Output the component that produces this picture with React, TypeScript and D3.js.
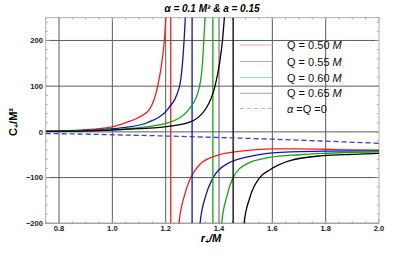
import React from "react";
import * as d3 from "d3";

// readings: [r+/M, C+/M²]
const q050Left = [[0.75, 1], [0.85, 3], [0.95, 7], [1.0, 11], [1.05, 20], [1.1, 32], [1.14, 50], [1.17, 100], [1.185, 150], [1.195, 200], [1.202, 265]];
const q050Right = [[1.243, -260], [1.25, -200], [1.27, -140], [1.294, -100], [1.33, -70], [1.39, -52], [1.5, -41], [1.6, -37], [1.7, -37], [1.8, -38], [1.9, -39.5], [2.0, -40]];
const q055Left = [[0.75, 1], [0.85, 2], [0.95, 5], [1.0, 7], [1.05, 10], [1.13, 20], [1.208, 50], [1.252, 100], [1.263, 150], [1.269, 200], [1.275, 265]];
const q055Right = [[1.322, -260], [1.329, -200], [1.35, -140], [1.378, -100], [1.43, -70], [1.53, -52], [1.63, -45], [1.8, -42], [2.0, -41.5]];
const q060Left = [[0.75, 1], [0.9, 2.5], [1.0, 5], [1.1, 9], [1.21, 20], [1.288, 50], [1.327, 100], [1.338, 150], [1.343, 200], [1.349, 265]];
const q060Right = [[1.403, -260], [1.41, -200], [1.43, -140], [1.453, -100], [1.504, -70], [1.59, -56], [1.7, -50], [1.79, -47], [2.0, -43.5]];
const q065Left = [[0.75, 1], [0.9, 2], [1.0, 4], [1.1, 7], [1.18, 10], [1.285, 20], [1.35, 50], [1.385, 100], [1.402, 150], [1.413, 200], [1.422, 265]];
const q065Right = [[1.487, -260], [1.494, -200], [1.516, -143], [1.553, -100], [1.591, -83], [1.666, -63], [1.79, -52], [1.9, -49], [2.0, -47]];
const schwarz = [[0.75, -3.5], [0.9, -5], [1.0, -6.3], [1.2, -9], [1.4, -12.3], [1.6, -16], [1.8, -20.3], [2.0, -25]];

const series = [
  { name: "Q = 0.50 ", color: "#ff1a1a", pale: "#f4a3a3", pole: 1.219, left: q050Left, right: q050Right },
  { name: "Q = 0.55 ", color: "#1010c8", pale: "#a8a8ee", pole: 1.299, left: q055Left, right: q055Right },
  { name: "Q = 0.60 ", color: "#10a810", pale: "#a6daa6", pole: 1.377, left: q060Left, right: q060Right },
  { name: "Q = 0.65 ", color: "#000000", pale: "#a0a0a0", pole: 1.453, left: q065Left, right: q065Right },
];

const xTicks = [0.8, 1.0, 1.2, 1.4, 1.6, 1.8, 2.0];
const yTicks = [-200, -100, 0, 100, 200];

const W = 415, H = 260;
const x = d3.scaleLinear().domain([0.75, 2.0]).range([45.7, 379]);
const y = d3.scaleLinear().domain([-200, 250]).range([223.3, 17.6]);

const line = d3.line<number[]>().x(d => x(d[0])).y(d => y(d[1])).curve(d3.curveMonotoneX);

export default function App() {
  const [x0, x1] = x.range();
  const [y0, y1] = y.range();
  const xMinor = d3.range(0.75, 2.0001, 0.05);
  const yMinor = d3.range(-200, 250.1, 20);
  const font = "'Liberation Sans', Arial, sans-serif";
  const legendY = [45, 61.5, 77.5, 93.3, 108.5];

  return (
    <svg width={W} height={H} style={{ position: "absolute", left: 0, top: 0, background: "#fff" }} fontFamily={font}>
      <defs>
        <clipPath id="plot"><rect x={x0} y={y1} width={x1 - x0} height={y0 - y1} /></clipPath>
      </defs>

      {/* grid */}
      <g stroke="#5a5a5a" strokeWidth={1}>
        {xTicks.filter(t => t < 2).map(t => <line key={"gx" + t} x1={x(t)} x2={x(t)} y1={y1} y2={y0} />)}
        {yTicks.map(t => <line key={"gy" + t} x1={x0} x2={x1} y1={y(t)} y2={y(t)} />)}
      </g>

      {/* frame and ticks */}
      <rect x={x0} y={y1} width={x1 - x0} height={y0 - y1} fill="none" stroke="#b0b0b0" strokeWidth={1} />
      <g stroke="#a0a0a0" strokeWidth={0.8}>
        {xMinor.map((t, i) => {
          const major = xTicks.some(m => Math.abs(m - t) < 1e-6);
          const len = major ? 4 : 2.2;
          return <g key={"xt" + i}>
            <line x1={x(t)} x2={x(t)} y1={y0} y2={y0 - len} />
            <line x1={x(t)} x2={x(t)} y1={y1} y2={y1 + len} />
          </g>;
        })}
        {yMinor.map((t, i) => {
          const major = yTicks.includes(Math.round(t));
          const len = major ? 4 : 2.2;
          return <g key={"yt" + i}>
            <line x1={x0} x2={x0 + len} y1={y(t)} y2={y(t)} />
            <line x1={x1} x2={x1 - len} y1={y(t)} y2={y(t)} />
          </g>;
        })}
      </g>

      {/* tick labels */}
      <g fontSize={7.6} fontWeight="bold" fill="#222">
        {xTicks.map(t => <text key={"xl" + t} x={x(t)} y={231} textAnchor="middle">{t.toFixed(1)}</text>)}
        {yTicks.map(t => <text key={"yl" + t} x={43} y={y(t) + 2.7} textAnchor="end">{t < 0 ? "\u2212" + Math.abs(t) : t}</text>)}
      </g>

      {/* curves */}
      <g clipPath="url(#plot)" fill="none">
        {series.map(s => (
          <g key={s.name} stroke={s.color} strokeWidth={1.3}>
            <line x1={x(s.pole)} x2={x(s.pole)} y1={y1} y2={y0} />
            <path d={line(s.left) ?? ""} />
            <path d={line(s.right) ?? ""} />
          </g>
        ))}
        <path d={line(schwarz) ?? ""} stroke="#3a3ae8" strokeWidth={1.3} strokeDasharray="5,3" />
      </g>

      {/* legend */}
      <g fontSize={11}>
        {series.map((s, i) => (
          <g key={"lg" + i}>
            <line x1={240} x2={272.5} y1={legendY[i]} y2={legendY[i]} stroke={s.pale} strokeWidth={1} />
            <text x={287} y={legendY[i] + 4} fill="#111">{s.name}<tspan fontStyle="italic">M</tspan></text>
          </g>
        ))}
        <line x1={240} x2={272.5} y1={legendY[4]} y2={legendY[4]} stroke="#b8b8f4" strokeWidth={1.2} strokeDasharray="4,3" />
        <text x={287} y={legendY[4] + 4} fill="#111"><tspan fontStyle="italic">α</tspan> =Q =0</text>
      </g>

      {/* titles */}
      <text x={212} y={12} textAnchor="middle" fontSize={10} fontWeight="bold" fontStyle="italic">α = 0.1 M² &amp; a = 0.15</text>
      <text transform="translate(17,122) rotate(-90)" textAnchor="middle" fontSize={11} fontWeight="bold">
        C<tspan fontSize={7} dy={2}>+</tspan><tspan dy={-2}>/M²</tspan>
      </text>
      <text x={211} y={242} textAnchor="middle" fontSize={11} fontWeight="bold" fontStyle="italic">
        r<tspan fontSize={7} dy={2}>+</tspan><tspan dy={-2}>/M</tspan>
      </text>
    </svg>
  );
}
